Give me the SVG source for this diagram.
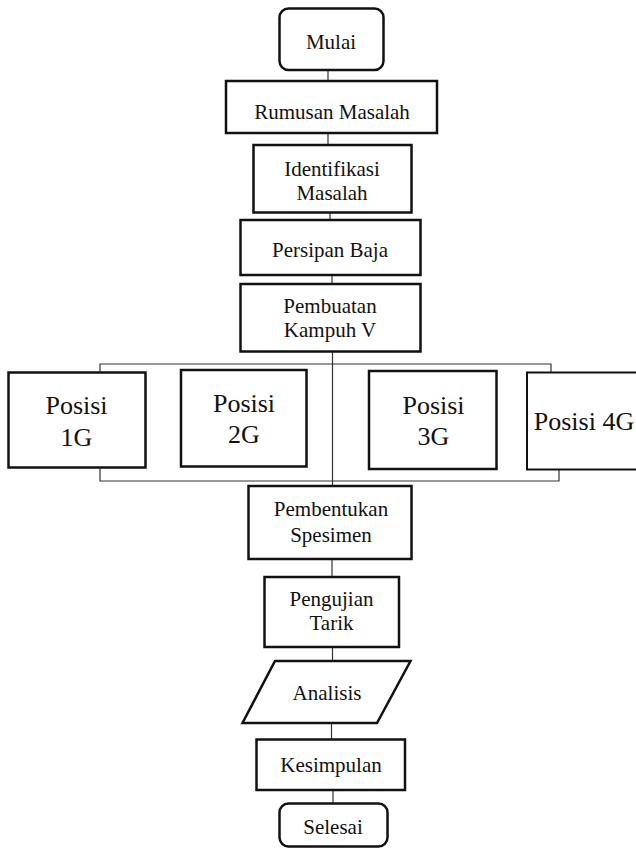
<svg xmlns="http://www.w3.org/2000/svg" width="636" height="848" viewBox="0 0 636 848">
<style>
.b{fill:#fff;stroke:#111;stroke-width:2.5}
.t{font-family:"Liberation Serif","Times New Roman",serif;font-size:21px;fill:#111;text-anchor:middle}
.p{font-size:26px}
.c{fill:none;stroke:#333;stroke-width:1.2}
</style>
<rect width="636" height="848" fill="#fff"/>
<g id="connectors">
<line class="c" x1="328" y1="70" x2="328" y2="81"/>
<line class="c" x1="328" y1="133" x2="328" y2="145"/>
<line class="c" x1="330" y1="212" x2="330" y2="220"/>
<line class="c" x1="332" y1="275" x2="332" y2="284"/>
<line class="c" x1="332.5" y1="352" x2="332.5" y2="486"/>
<polyline class="c" points="100,372.5 100,364 551,364 551,372"/>
<polyline class="c" points="100,467.5 100,481 559,481 559,469"/>
<line class="c" x1="332" y1="559" x2="332" y2="577"/>
<line class="c" x1="332.5" y1="647" x2="332.5" y2="661"/>
<line class="c" x1="331.5" y1="723" x2="331.5" y2="740"/>
<line class="c" x1="333" y1="790" x2="333" y2="803"/>
</g>
<g id="mulai">
<rect class="b" x="279.5" y="8.5" width="104" height="61.5" rx="9"/>
<text class="t" x="331" y="48.5">Mulai</text>
</g>
<g id="rumusan">
<rect class="b" x="226" y="81" width="211" height="52"/>
<text class="t" x="332" y="118.5">Rumusan Masalah</text>
</g>
<g id="identifikasi">
<rect class="b" x="253.5" y="145" width="158" height="67.5"/>
<text class="t" x="332" y="175.5">Identifikasi</text>
<text class="t" x="332" y="200">Masalah</text>
</g>
<g id="persipan">
<rect class="b" x="240.5" y="220" width="180" height="55"/>
<text class="t" x="330" y="256.5">Persipan Baja</text>
</g>
<g id="pembuatan">
<rect class="b" x="240.5" y="284" width="180" height="67.5"/>
<text class="t" x="330" y="312.5">Pembuatan</text>
<text class="t" x="330" y="336.5">Kampuh V</text>
</g>
<g id="posisi1g">
<rect class="b" x="8.5" y="372.5" width="137" height="95"/>
<text class="t p" x="76.5" y="414">Posisi</text>
<text class="t p" x="76.5" y="446">1G</text>
</g>
<g id="posisi2g">
<rect class="b" x="181" y="370" width="125.5" height="96.5"/>
<text class="t p" x="244" y="411.5">Posisi</text>
<text class="t p" x="244" y="442.5">2G</text>
</g>
<g id="posisi3g">
<rect class="b" x="369" y="371" width="127.5" height="98"/>
<text class="t p" x="433.5" y="414">Posisi</text>
<text class="t p" x="433.5" y="445">3G</text>
</g>
<g id="posisi4g">
<rect class="b" x="527" y="372.5" width="115" height="97" style="stroke-width:2"/>
<text class="t p" x="584" y="429.5">Posisi 4G</text>
</g>
<g id="pembentukan">
<rect class="b" x="248.5" y="486" width="163" height="73"/>
<text class="t" x="331" y="516">Pembentukan</text>
<text class="t" x="331" y="541.5">Spesimen</text>
</g>
<g id="pengujian">
<rect class="b" x="264.5" y="577" width="134.5" height="70"/>
<text class="t" x="331.5" y="606">Pengujian</text>
<text class="t" x="331.5" y="630">Tarik</text>
</g>
<g id="analisis">
<polygon class="b" points="275,661 410.5,661 377,723 242.5,723"/>
<text class="t" x="327" y="699.5">Analisis</text>
</g>
<g id="kesimpulan">
<rect class="b" x="256.5" y="739.5" width="148.5" height="50.5"/>
<text class="t" x="331" y="771.5">Kesimpulan</text>
</g>
<g id="selesai">
<rect class="b" x="279.5" y="803.5" width="108" height="43" rx="9"/>
<text class="t" x="333" y="833.5">Selesai</text>
</g>
</svg>
